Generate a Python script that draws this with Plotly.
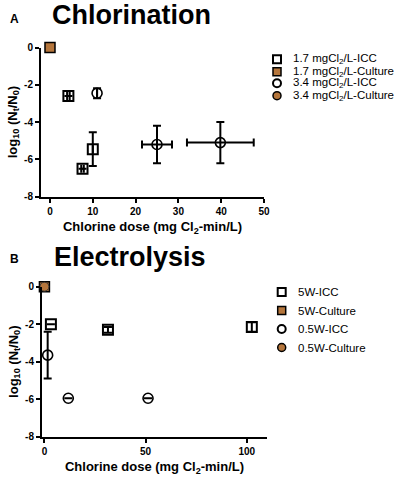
import plotly.graph_objects as go
from plotly.subplots import make_subplots

W, H = 402, 481
FONT = "Liberation Sans"
BROWN = "#B5763C"
BLACK = "#000000"

# ---- panel A: chlorination ----
a17_icc_x = [4.3, 7.6, 10.0]
a17_icc_y = [-2.6, -6.5, -5.45]
a17_icc_xerr = [0.3, 0.3, 0.0]
a17_icc_yerr = [0.0, 0.0, 0.9]
a17_cul_x = [0]
a17_cul_y = [0]
a34_icc_x = [11.0, 25.0, 39.8]
a34_icc_y = [-2.45, -5.2, -5.1]
a34_icc_xerr = [0.0, 3.5, 7.8]
a34_icc_yerr = [0.27, 1.0, 1.1]
a34_cul_x = [0]
a34_cul_y = [0]

# ---- panel B: electrolysis ----
b5_icc_x = [3.2, 31.4, 102.5]
b5_icc_y = [-2.0, -2.3, -2.15]
b5_icc_yerr = [0.0, 0.15, 0.25]
b5_cul_x = [0]
b5_cul_y = [0]
b05_icc_x = [1.6, 11.8, 51.2]
b05_icc_y = [-3.65, -5.95, -5.95]
b05_icc_yerr = [1.25, 0.0, 0.0]
b05_cul_x = [0]
b05_cul_y = [0]

a_legend = ["1.7 mgCl<sub>2</sub>/L-ICC", "1.7 mgCl<sub>2</sub>/L-Culture",
            "3.4 mgCl<sub>2</sub>/L-ICC", "3.4 mgCl<sub>2</sub>/L-Culture"]
b_legend = ["5W-ICC", "5W-Culture", "0.5W-ICC", "0.5W-Culture"]
y_ticks = [0, -2, -4, -6, -8]
y_ticktext = ["0", "-2", "-4", "-6", "-8"]


def px(x):
    return x / W


def py(y):
    return 1 - y / H


def err(vals):
    return dict(type="data", array=vals, color=BLACK, thickness=2, width=4, visible=True)


fig = make_subplots(rows=2, cols=1)

open_sq = dict(symbol="square-open", size=10, color=BLACK, line=dict(width=2, color=BLACK))
open_ci = dict(symbol="circle-open", size=10, color=BLACK, line=dict(width=1.6, color=BLACK))
fill_sq = dict(symbol="square", size=10, color=BROWN, line=dict(width=1.5, color=BLACK))
fill_ci = dict(symbol="circle", size=9, color=BROWN, line=dict(width=1, color="#333333"))

# A (culture circle drawn first so the square covers it)
fig.add_trace(go.Scatter(x=a34_cul_x, y=a34_cul_y, mode="markers", marker=fill_ci), 1, 1)
fig.add_trace(go.Scatter(x=a17_icc_x, y=a17_icc_y, mode="markers", marker=open_sq,
                         error_x=err(a17_icc_xerr), error_y=err(a17_icc_yerr)), 1, 1)
fig.add_trace(go.Scatter(x=a34_icc_x, y=a34_icc_y, mode="markers", marker=open_ci,
                         error_x=err(a34_icc_xerr), error_y=err(a34_icc_yerr)), 1, 1)
fig.add_trace(go.Scatter(x=a17_cul_x, y=a17_cul_y, mode="markers", marker=fill_sq), 1, 1)

# B
fig.add_trace(go.Scatter(x=b5_icc_x, y=b5_icc_y, mode="markers", marker=open_sq,
                         error_y=err(b5_icc_yerr)), 2, 1)
fig.add_trace(go.Scatter(x=b5_cul_x, y=b5_cul_y, mode="markers", marker=fill_sq), 2, 1)
fig.add_trace(go.Scatter(x=b05_icc_x, y=b05_icc_y, mode="markers", marker=open_ci,
                         error_y=err(b05_icc_yerr)), 2, 1)
fig.add_trace(go.Scatter(x=b05_cul_x, y=b05_cul_y, mode="markers", marker=fill_ci), 2, 1)

fig.update_traces(cliponaxis=False, showlegend=False)

axis_style = dict(showline=True, linecolor=BLACK, linewidth=2, ticks="outside", ticklen=4,
                  tickwidth=2, tickcolor=BLACK, showgrid=False, zeroline=False, automargin=False,
                  tickfont=dict(family=FONT, size=10, color=BLACK, weight="bold"))
xtitle = "<b>Chlorine dose (mg Cl<sub>2</sub>-min/L)</b>"
ytitle = "<b>log<sub>10</sub> (N<sub>t</sub>/N<sub>0</sub>)</b>"
tfont = dict(family=FONT, size=13, color=BLACK)

fig.update_xaxes(axis_style)
fig.update_yaxes(axis_style)
fig.update_xaxes(row=1, col=1, range=[-2.1, 50], domain=[px(41), px(264)],
                 tickvals=[0, 10, 20, 30, 40, 50],
                 title=dict(text=xtitle, font=tfont, standoff=6))
fig.update_xaxes(row=2, col=1, range=[-1.2, 110], domain=[px(42), px(267)],
                 tickvals=[0, 50, 100],
                 title=dict(text=xtitle, font=tfont, standoff=6))
fig.update_yaxes(row=1, col=1, range=[-8, 0], domain=[py(196.7), py(47.5)],
                 tickvals=y_ticks, ticktext=y_ticktext,
                 title=dict(text=ytitle, font=tfont, standoff=4))
fig.update_yaxes(row=2, col=1, range=[-8, 0], domain=[py(436.7), py(286.7)],
                 tickvals=y_ticks, ticktext=y_ticktext,
                 title=dict(text=ytitle, font=tfont, standoff=4))

annotations = [
    dict(x=px(15), y=py(19), text="<b>A</b>", font=dict(family=FONT, size=12, color=BLACK)),
    dict(x=px(131), y=py(15), text="<b>Chlorination</b>", font=dict(family=FONT, size=27, color=BLACK)),
    dict(x=px(15), y=py(259), text="<b>B</b>", font=dict(family=FONT, size=12, color=BLACK)),
    dict(x=px(130), y=py(257), text="<b>Electrolysis</b>", font=dict(family=FONT, size=27, color=BLACK)),
]
shapes = []


def add_legend(labels, kinds, cx, tx, rows):
    for lab, kind, ry in zip(labels, kinds, rows):
        sym, fill = kind
        s = 4
        shp = dict(type="rect" if sym == "square" else "circle", xref="paper", yref="paper",
                   x0=px(cx - s), x1=px(cx + s), y0=py(ry + s), y1=py(ry - s),
                   line=dict(color=BLACK, width=1.5 if fill else 2),
                   fillcolor=BROWN if fill else "white")
        shapes.append(shp)
        annotations.append(dict(x=px(tx), y=py(ry), text=lab, xanchor="left",
                                font=dict(family=FONT, size=11.5, color=BLACK)))


kinds = [("square", False), ("square", True), ("circle", False), ("circle", True)]
add_legend(a_legend, kinds, 277, 291, [59.3, 71.7, 83.3, 95.7])
add_legend(b_legend, kinds, 281.7, 296, [292, 310.5, 329, 347.5])

for a in annotations:
    a.update(xref="paper", yref="paper", showarrow=False, yanchor="middle",
             xanchor=a.get("xanchor", "center"))

fig.update_layout(width=W, height=H, margin=dict(l=0, r=0, t=0, b=0),
                  paper_bgcolor="white", plot_bgcolor="white",
                  annotations=annotations, shapes=shapes, showlegend=False)

# drop the default 8px page margin so the figure sits at the window's corner
fig.write_html("out.html", config={"displayModeBar": False},
               post_script="document.body.style.margin = '0';")
